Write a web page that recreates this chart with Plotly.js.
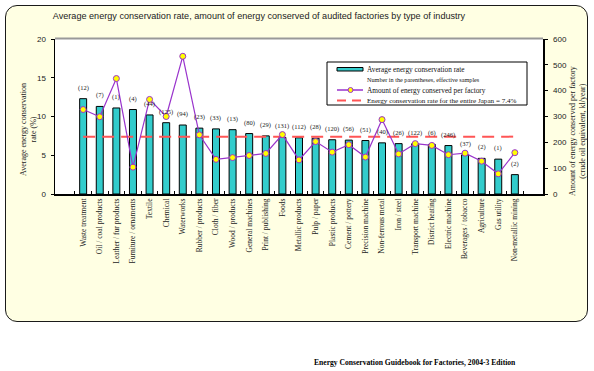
<!DOCTYPE html>
<html>
<head>
<meta charset="utf-8">
<script src="https://cdn.plot.ly/plotly-3.0.1.min.js"></script>
<style>
  html, body { margin: 0; padding: 0; background: #ffffff; }
  #wrap { position: relative; width: 594px; height: 371px; overflow: hidden; }
  #panel { position: absolute; left: 5px; top: 5px; width: 581px; height: 315px;
           background: #FFFFE3; border: 1.5px solid #1a1a1a; border-radius: 12px; }
  #chart { position: absolute; left: 0; top: 0; width: 594px; height: 371px; }
</style>
</head>
<body>
<div id="wrap">
  <div id="panel"></div>
  <div id="chart"></div>
</div>
<script>
const categories = ["Waste treatment", "Oil / coal products", "Leather / fur products", "Furniture / ornaments",
  "Textile", "Chemical", "Waterworks", "Rubber / products", "Cloth / fiber", "Wood / products",
  "General machines", "Print / publishing", "Foods", "Metallic products", "Pulp / paper",
  "Plastic products", "Cement / pottery", "Precision machine", "Non-ferrous metal", "Iron / steel",
  "Transport machine", "District heating", "Electric machine", "Beverages / tobacco", "Agriculture",
  "Gas utility", "Non-metallic mining"];
const conservationRate = [12.3, 11.3, 11.1, 10.9, 10.2, 9.2, 8.9, 8.5, 8.4, 8.3, 7.8, 7.5, 7.3, 7.25, 7.2,
  7.0, 6.95, 6.9, 6.6, 6.5, 6.5, 6.4, 6.25, 5.05, 4.6, 4.5, 2.5];
const amountConserved = [327, 299, 447, 104, 366, 300, 533, 229, 134, 141, 149, 157, 230, 132, 203,
  162, 191, 143, 288, 155, 195, 188, 152, 158, 127, 78, 160];
const sampleCounts = [12, 7, 1, 4, 44, 125, 94, 23, 33, 13, 80, 29, 131, 112, 28, 120, 56, 51, 40, 26,
  122, 6, 246, 37, 2, 1, 2];
const japanRate = 7.4;

// layout geometry (pixels)
const L = 55, R = 543, T = 39, B = 194;
const W = 594, H = 371;
const px = x => (x - L) / (R - L);
const py = y => (B - y) / (B - T);

const serif = "Liberation Serif, Times New Roman, serif";
const sans = "Liberation Sans, Arial, sans-serif";
const purple = "#9933CC";
const teal = "#33CCCC";
const red = "#FF5555";

const traces = [
  {
    type: "bar", x: categories, y: conservationRate, yaxis: "y",
    marker: { color: teal, line: { color: "#000", width: 1 } },
    showlegend: false, hoverinfo: "x+y"
  },
  {
    type: "scatter", mode: "lines", x: categories, y: categories.map(() => japanRate), yaxis: "y",
    line: { color: red, width: 2, dash: "12px,7px" }, showlegend: false, hoverinfo: "skip"
  },
  {
    type: "scatter", mode: "lines+markers", x: categories, y: amountConserved, yaxis: "y2",
    line: { color: purple, width: 1.2 },
    marker: { color: "#FFFF00", size: 6, line: { color: purple, width: 1 } },
    showlegend: false
  }
];

const annotations = [];
categories.forEach((c, i) => {
  annotations.push({
    x: c, y: conservationRate[i], xref: "x", yref: "y", yanchor: "bottom", yshift: 5,
    text: "(" + sampleCounts[i] + ")", showarrow: false,
    font: { family: serif, size: 6.5, color: "#222" }
  });
});

// axis titles
annotations.push({
  xref: "paper", yref: "paper", x: px(28), y: py(130), xanchor: "center", yanchor: "middle", textangle: -90,
  text: "Average energy conservation<br>rate (%)", showarrow: false,
  font: { family: serif, size: 8, color: "#222" }
});
annotations.push({
  xref: "paper", yref: "paper", x: px(577), y: py(131), xanchor: "center", yanchor: "middle", textangle: -90,
  text: "Amount of energy conserved per factory<br>(crude oil equivalent, kl/year)", showarrow: false,
  font: { family: serif, size: 8, color: "#222" }
});

// legend texts
const legendText = [
  ["Average energy conservation rate", 69, 7.3],
  ["Number in the parentheses, effective samples", 79.5, 6.2],
  ["Amount of energy conserved per factory", 90, 7.3],
  ["Energy conservation rate for the entire Japan = 7.4%", 100.5, 7.1]
];
legendText.forEach(([t, y, s]) => {
  annotations.push({
    xref: "paper", yref: "paper", x: px(365), y: py(y), xanchor: "left", yanchor: "middle",
    text: t, showarrow: false, font: { family: serif, size: s, color: "#111" }
  });
});

// footer
annotations.push({
  xref: "paper", yref: "paper", x: px(312), y: py(362), xanchor: "left", yanchor: "middle",
  text: "<b>Energy Conservation Guidebook for Factories, 2004-3 Edition</b>", showarrow: false,
  font: { family: serif, size: 7.6, color: "#000" }
});

const shapes = [
  // plot top shadow
  { type: "line", xref: "paper", yref: "paper", x0: 0, x1: 1, y0: py(38.5), y1: py(38.5),
    line: { color: "#999", width: 2 } },
  // legend box
  { type: "rect", xref: "paper", yref: "paper", x0: px(327), x1: px(527), y0: py(62), y1: py(105),
    fillcolor: "#fff", line: { color: "#000", width: 1 } },
  // legend bar symbol
  { type: "rect", xref: "paper", yref: "paper", x0: px(337), x1: px(363), y0: py(67.5), y1: py(71),
    fillcolor: teal, line: { color: "#000", width: 1 } },
  // legend purple line
  { type: "line", xref: "paper", yref: "paper", x0: px(337), x1: px(363), y0: py(90), y1: py(90),
    line: { color: purple, width: 1.5 } },
  { type: "circle", xref: "paper", yref: "paper", x0: px(348), x1: px(353), y0: py(87.5), y1: py(92.5),
    fillcolor: "#FFFF00", line: { color: purple, width: 1 } },
  // legend dashed line
  { type: "line", xref: "paper", yref: "paper", x0: px(337), x1: px(363), y0: py(100.5), y1: py(100.5),
    line: { color: red, width: 2, dash: "9px,6px" } }
];

const layout = {
  width: W, height: H,
  margin: { l: L, r: W - R, t: T, b: H - B, pad: 0 },
  paper_bgcolor: "rgba(0,0,0,0)",
  plot_bgcolor: "#ffffff",
  title: {
    text: "Average energy conservation rate, amount of energy conserved of audited factories by type of industry",
    xref: "container", yref: "container", x: 259 / W, xanchor: "center", y: 1 - 16 / H, yanchor: "middle",
    font: { family: sans, size: 9.1, color: "#222" }
  },
  bargap: 0.58,
  showlegend: false,
  xaxis: {
    type: "category", tickangle: -90, tickfont: { family: serif, size: 7.5, color: "#222" },
    showline: true, linecolor: "#000", linewidth: 1.5, ticks: "inside", ticklen: 3,
    tickson: "boundaries", tickcolor: "#000", showgrid: false, zeroline: false, fixedrange: true
  },
  yaxis: {
    range: [0, 20], dtick: 5, tickfont: { family: sans, size: 8, color: "#222" },
    showline: true, linecolor: "#000", linewidth: 1.5, ticks: "outside", ticklen: 3, tickcolor: "#000",
    ticklabelstandoff: 3,
    showgrid: false, zeroline: false, fixedrange: true
  },
  yaxis2: {
    range: [0, 600], dtick: 100, overlaying: "y", side: "right",
    tickfont: { family: sans, size: 8, color: "#222" },
    showline: true, linecolor: "#000", linewidth: 1.5, ticks: "outside", ticklen: 3, tickcolor: "#000",
    ticklabelstandoff: 4,
    showgrid: false, zeroline: false, fixedrange: true
  },
  annotations: annotations,
  shapes: shapes
};

Plotly.newPlot("chart", traces, layout, { displayModeBar: false, staticPlot: true });
</script>
</body>
</html>
